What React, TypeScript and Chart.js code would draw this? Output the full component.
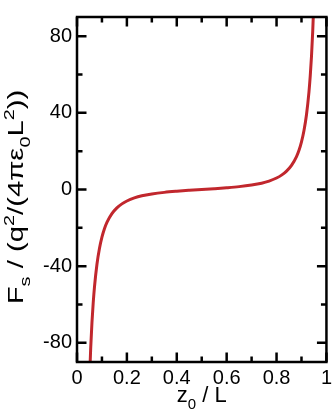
import React, { useEffect, useRef } from "react";
import { Chart, registerables } from "chart.js";

Chart.register(...registerables);

// (z0/L, Fs in units of q^2/(4 pi eps0 L^2))
const zValues = [
  0.05, 0.055, 0.06, 0.065, 0.07, 0.08, 0.09, 0.1, 0.11, 0.12, 0.14, 0.16, 0.18,
  0.2, 0.23, 0.26, 0.3, 0.35, 0.4, 0.45, 0.5, 0.55, 0.6, 0.65, 0.7, 0.74, 0.77,
  0.8, 0.82, 0.84, 0.86, 0.88, 0.89, 0.9, 0.91, 0.92, 0.93, 0.935, 0.94, 0.945, 0.95,
];
const forceValues = [
  -99.9, -82.5, -69.3, -59.1, -50.9, -39.0, -30.8, -24.9, -20.5, -17.2, -12.6, -9.6, -7.5,
  -6.0, -4.4, -3.3, -2.35, -1.5, -0.91, -0.43, 0, 0.43, 0.91, 1.5, 2.35, 3.3, 4.4,
  6.0, 7.5, 9.6, 12.6, 17.2, 20.5, 24.9, 30.8, 39.0, 50.9, 59.1, 69.3, 82.5, 99.9,
];
const xMajorTicks = [0, 0.2, 0.4, 0.6, 0.8, 1];
const xMinorTicks = [0.1, 0.3, 0.5, 0.7, 0.9];
const yMajorTicks = [-80, -40, 0, 40, 80];
const yMinorTicks = [-60, -20, 20, 60];

const FONT = "'Liberation Sans', Arial, Helvetica, sans-serif";

type Piece = { t: string; k: "n" | "sub" | "sup" };

function drawRich(ctx: CanvasRenderingContext2D, pieces: Piece[], size: number, x: number, y: number, align: "center" | "left") {
  const small = Math.round(size * 0.68);
  const widths = pieces.map((p) => {
    ctx.font = `${p.k === "n" ? size : small}px ${FONT}`;
    return ctx.measureText(p.t).width;
  });
  const total = widths.reduce((a, b) => a + b, 0);
  let cx = align === "center" ? x - total / 2 : x;
  ctx.textBaseline = "alphabetic";
  ctx.textAlign = "left";
  pieces.forEach((p, i) => {
    ctx.font = `${p.k === "n" ? size : small}px ${FONT}`;
    const dy = p.k === "sub" ? size * 0.3 : p.k === "sup" ? -size * 0.42 : 0;
    ctx.fillText(p.t, cx, y + dy);
    cx += widths[i];
  });
}

const framePlugin = {
  id: "frameTicks",
  afterDraw(chart: any) {
    const { ctx, chartArea } = chart;
    const { left, right, top, bottom } = chartArea;
    const xs = chart.scales.x;
    const ys = chart.scales.y;
    ctx.save();
    ctx.strokeStyle = "#000";
    ctx.lineWidth = 2.5;
    ctx.lineCap = "butt";
    const major = 9.5;
    const minor = 5.5;
    ctx.beginPath();
    const xt = (vals: number[], len: number) => {
      vals.forEach((v) => {
        const px = xs.getPixelForValue(v);
        ctx.moveTo(px, bottom);
        ctx.lineTo(px, bottom - len);
        ctx.moveTo(px, top);
        ctx.lineTo(px, top + len);
      });
    };
    const yt = (vals: number[], len: number) => {
      vals.forEach((v) => {
        const py = ys.getPixelForValue(v);
        ctx.moveTo(left, py);
        ctx.lineTo(left + len, py);
        ctx.moveTo(right, py);
        ctx.lineTo(right - len, py);
      });
    };
    xt(xMajorTicks, major);
    xt(xMinorTicks, minor);
    yt(yMajorTicks, major);
    yt(yMinorTicks, minor);
    ctx.stroke();
    ctx.lineWidth = 2.5;
    ctx.strokeRect(left, top, right - left, bottom - top);

    ctx.fillStyle = "#000";
    // x title
    drawRich(
      ctx,
      [
        { t: "z", k: "n" },
        { t: "0", k: "sub" },
        { t: " / L", k: "n" },
      ],
      22,
      (left + right) / 2,
      402,
      "center"
    );
    // y title (rotated, glyphs stretched along the text direction as in the reference)
    ctx.translate(23, 197);
    ctx.rotate(-Math.PI / 2);
    ctx.scale(1.33, 1);
    drawRich(
      ctx,
      [
        { t: "F", k: "n" },
        { t: "s", k: "sub" },
        { t: " / (q", k: "n" },
        { t: "2", k: "sup" },
        { t: "/(4πε", k: "n" },
        { t: "0", k: "sub" },
        { t: "L", k: "n" },
        { t: "2", k: "sup" },
        { t: "))", k: "n" },
      ],
      22,
      0,
      0,
      "center"
    );
    ctx.restore();
  },
};

export default function App() {
  const ref = useRef<HTMLCanvasElement | null>(null);
  useEffect(() => {
    document.body.style.margin = "0";
    if (!ref.current) return;
    const chart = new Chart(ref.current, {
      type: "line",
      data: {
        datasets: [
          {
            data: zValues.map((z, i) => ({ x: z, y: forceValues[i] })),
            borderColor: "#c1272d",
            borderWidth: 3,
            pointRadius: 0,
            fill: false,
            cubicInterpolationMode: "monotone",
          },
        ],
      },
      options: {
        animation: false,
        responsive: false,
        maintainAspectRatio: false,
        layout: { padding: { left: 0, top: 3, right: 7, bottom: 0 } },
        plugins: { legend: { display: false }, tooltip: { enabled: false } },
        scales: {
          x: {
            type: "linear",
            min: 0,
            max: 1,
            grid: { display: false, drawTicks: false },
            border: { display: false },
            afterBuildTicks: (s: any) => {
              s.ticks = xMajorTicks.map((v) => ({ value: v }));
            },
            afterFit: (s: any) => {
              s.height = 53;
            },
            ticks: {
              padding: 4,
              maxRotation: 0,
              autoSkip: false,
              color: "#000",
              font: { family: FONT, size: 20 },
              callback: (v: any) => String(v),
            },
          },
          y: {
            type: "linear",
            min: -90,
            max: 90,
            grid: { display: false, drawTicks: false },
            border: { display: false },
            afterBuildTicks: (s: any) => {
              s.ticks = yMajorTicks.map((v) => ({ value: v }));
            },
            afterFit: (s: any) => {
              s.width = 77;
            },
            ticks: {
              padding: 5,
              autoSkip: false,
              color: "#000",
              font: { family: FONT, size: 20 },
              callback: (v: any) => String(v),
            },
          },
        },
      },
      plugins: [framePlugin],
    } as any);
    return () => chart.destroy();
  }, []);
  return (
    <div style={{ position: "absolute", left: 0, top: 0, width: 336, height: 415 }}>
      <canvas ref={ref} width={336} height={415} style={{ width: 336, height: 415 }} />
    </div>
  );
}
